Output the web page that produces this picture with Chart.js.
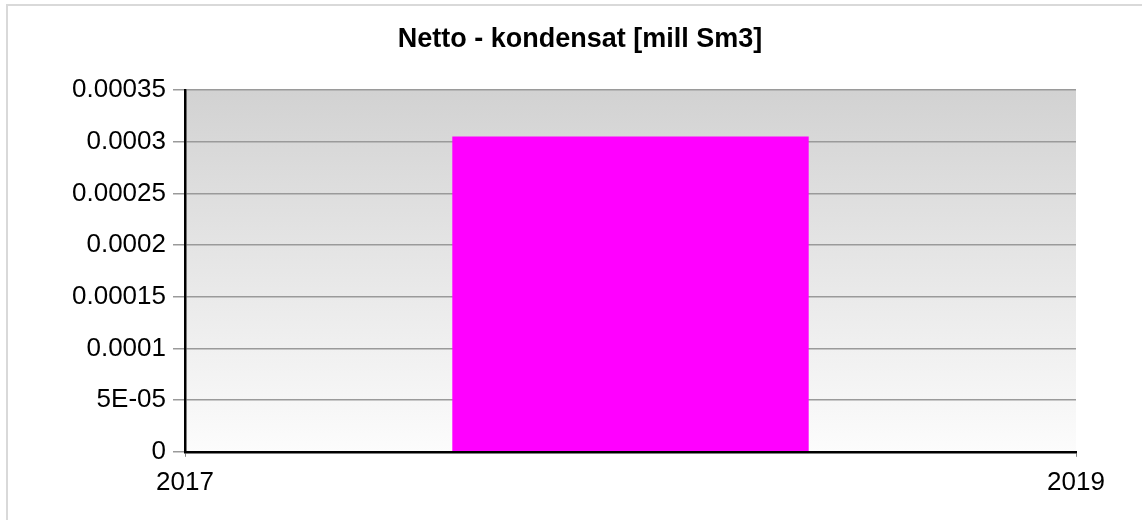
<!DOCTYPE html>
<html>
<head>
<meta charset="utf-8">
<script src="https://cdn.jsdelivr.net/npm/chart.js@4/dist/chart.umd.min.js"></script>
<style>
  html, body { margin: 0; padding: 0; background: #ffffff; overflow: hidden; }
  #wrap { position: absolute; left: 0; top: 0; width: 1142px; height: 520px; }
  #frame { position: absolute; left: 6px; top: 4px; width: 1200px; height: 600px; border: 2px solid #d9d9d9; box-sizing: border-box; pointer-events: none; }
</style>
</head>
<body>
<div id="wrap"><canvas id="c" width="1142" height="520"></canvas></div>
<div id="frame"></div>
<script>
const chartTitle = 'Netto - kondensat [mill Sm3]';
const years = [2018];
const values = [0.000305];
const xTickValues = [2017, 2019];
const xTickLabels = ['2017', '2019'];
const yTickLabels = ['0', '5E-05', '0.0001', '0.00015', '0.0002', '0.00025', '0.0003', '0.00035'];

const FONT = "'Liberation Sans', Arial, sans-serif";

const bgPlugin = {
  id: 'plotBg',
  beforeDraw(chart) {
    const { ctx, chartArea: a } = chart;
    const g = ctx.createLinearGradient(0, a.top, 0, a.bottom);
    g.addColorStop(0, '#d2d2d2');
    g.addColorStop(1, '#fcfcfc');
    ctx.save();
    ctx.fillStyle = g;
    ctx.fillRect(a.left, a.top, a.right - a.left, a.bottom - a.top);
    ctx.restore();
  }
};

new Chart(document.getElementById('c'), {
  type: 'bar',
  data: {
    datasets: [{
      data: years.map((x, i) => ({ x: x, y: values[i] })),
      backgroundColor: '#ff00ff',
      borderWidth: 0,
      categoryPercentage: 0.4,
      barPercentage: 1.0
    }]
  },
  options: {
    responsive: false,
    animation: false,
    layout: { padding: { left: 18, right: 0, top: 0, bottom: 12 } },
    plugins: {
      legend: { display: false },
      tooltip: { enabled: false },
      title: {
        display: true,
        text: chartTitle,
        color: '#000',
        font: { family: FONT, size: 27, weight: 'bold' },
        padding: { top: 23, bottom: 34.6 }
      }
    },
    scales: {
      x: {
        type: 'linear',
        min: 2017,
        max: 2019,
        offset: false,
        afterBuildTicks(scale) { scale.ticks = xTickValues.map(v => ({ value: v })); },
        grid: { offset: false, drawOnChartArea: false, drawTicks: true, tickLength: 5, color: '#808080', lineWidth: 1 },
        border: { display: true, color: '#000', width: 2.5 },
        ticks: {
          maxRotation: 0,
          autoSkip: false,
          padding: 10,
          color: '#000',
          font: { family: FONT, size: 26 },
          callback: (v, i) => xTickLabels[i]
        }
      },
      y: {
        min: 0,
        max: 0.00035,
        afterFit(scale) { scale.width = 167; },
        grid: { color: '#9a9a9a', lineWidth: 1.5, drawTicks: true, tickLength: 12 },
        border: { display: true, color: '#000', width: 2.5 },
        ticks: {
          stepSize: 0.00005,
          padding: 7,
          color: '#000',
          font: { family: FONT, size: 26 },
          callback: (v, i) => yTickLabels[i]
        }
      },
      yRight: {
        type: 'linear',
        position: 'right',
        display: true,
        afterFit(scale) { scale.width = 66; },
        grid: { display: false, drawTicks: false },
        border: { display: false },
        ticks: { display: false }
      }
    }
  },
  plugins: [bgPlugin]
});
</script>
</body>
</html>
